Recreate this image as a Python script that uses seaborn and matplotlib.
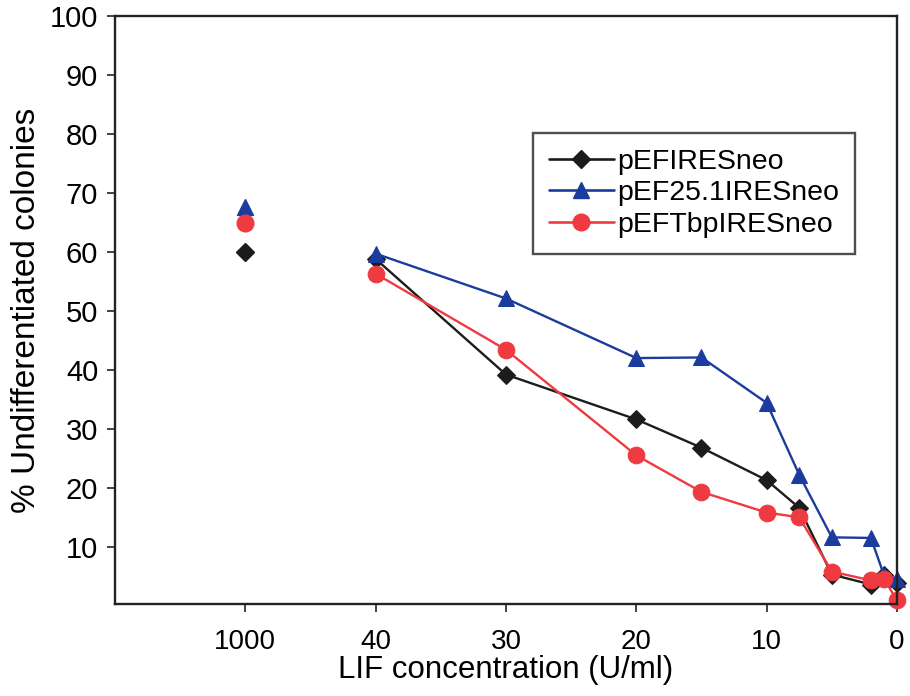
import matplotlib
matplotlib.use("Agg")
import matplotlib.pyplot as plt
import seaborn as sns
import pandas as pd

# LIF doses (U/ml) for the titration series
lif_doses = [40, 30, 20, 15, 10, 7.5, 5, 2, 1, 0]

# % undifferentiated colonies per construct
pefiresneo = [58.8, 39.2, 31.6, 26.8, 21.3, 16.6, 5.3, 3.6, 5.2, 3.9]
pef251iresneo = [59.7, 52.1, 42.0, 42.1, 34.4, 22.2, 11.6, 11.5, 5.2, 4.6]
peftbpiresneo = [56.3, 43.4, 25.5, 19.3, 15.8, 15.0, 5.8, 4.3, 4.6, 0.9]

# reference point at saturating LIF (1000 U/ml)
high_dose_label = "1000"
high_dose_values = [60.0, 67.6, 64.9]

series_names = ["pEFIRESneo", "pEF25.1IRESneo", "pEFTbpIRESneo"]
series_values = [pefiresneo, pef251iresneo, peftbpiresneo]
colors = ["#1c1c1c", "#1b3c9e", "#ee3a40"]
markers = ["D", "^", "o"]
marker_sizes = [9, 12, 12]

x_ticks = [40, 30, 20, 10, 0]
y_ticks = [10, 20, 30, 40, 50, 60, 70, 80, 90, 100]

sns.set_style("white")
plt.rcParams["font.family"] = ["Liberation Sans", "DejaVu Sans"]
plt.rcParams["text.color"] = "black"
plt.rcParams["axes.labelcolor"] = "black"
plt.rcParams["xtick.color"] = "black"
plt.rcParams["ytick.color"] = "black"

fig = plt.figure(figsize=(9.10, 6.96), dpi=100)
ax = fig.add_axes([0.1264, 0.1322, 0.8593, 0.8448])

# the 1000 U/ml column sits one gap to the left of 40 on the reversed axis
high_pos = 50

rows = []
for name, vals in zip(series_names, series_values):
    for d, v in zip(lif_doses, vals):
        rows.append({"dose": d, "pct": v, "construct": name})
df = pd.DataFrame(rows)

handles = []
for name, col, mk, ms, hv in zip(series_names, colors, markers, marker_sizes, high_dose_values):
    sub = df[df["construct"] == name]
    sns.lineplot(data=sub, x="dose", y="pct", ax=ax, color=col, marker=mk,
                 markersize=ms, markeredgecolor=col, linewidth=1.7,
                 estimator=None, sort=False, legend=False, clip_on=False)
    hdf = pd.DataFrame({"dose": [high_pos], "pct": [hv]})
    ax.plot(hdf["dose"], hdf["pct"], linestyle="none", marker=mk,
            markersize=ms, color=col, markeredgecolor=col)
    handles.append(plt.Line2D([], [], color=col, marker=mk, markersize=ms,
                              markeredgecolor=col, linewidth=1.9, label=name))

ax.set_xlim(60, 0)
ax.set_ylim(0.3, 100)
ax.set_xticks([high_pos] + x_ticks)
ax.set_xticklabels([high_dose_label] + [str(t) for t in x_ticks], fontsize=20)
ax.set_yticks(y_ticks)
ax.set_yticklabels([str(t) for t in y_ticks], fontsize=21)
ax.tick_params(axis="both", direction="out", length=6, width=1.2,
               color="#222222", bottom=True, left=True, pad=6)
ax.tick_params(axis="x", pad=12)
for s in ax.spines.values():
    s.set_color("#222222")
    s.set_linewidth(1.7)
    s.set_visible(True)

ax.set_xlabel("LIF concentration (U/ml)", fontsize=22.5, labelpad=0)
ax.set_ylabel("% Undifferentiated colonies", fontsize=24, labelpad=6)

leg = ax.legend(handles=handles, loc="upper left",
                bbox_to_anchor=(533 / 910, 1 - 133 / 696),
                bbox_transform=fig.transFigure, borderaxespad=0,
                fontsize=20.5, frameon=True, fancybox=False, edgecolor="#222222",
                handlelength=2.3, handletextpad=0.1, labelspacing=0.2,
                borderpad=0.55)
leg.get_frame().set_linewidth(1.7)

fig.savefig("out.png", dpi=100, facecolor="white")
